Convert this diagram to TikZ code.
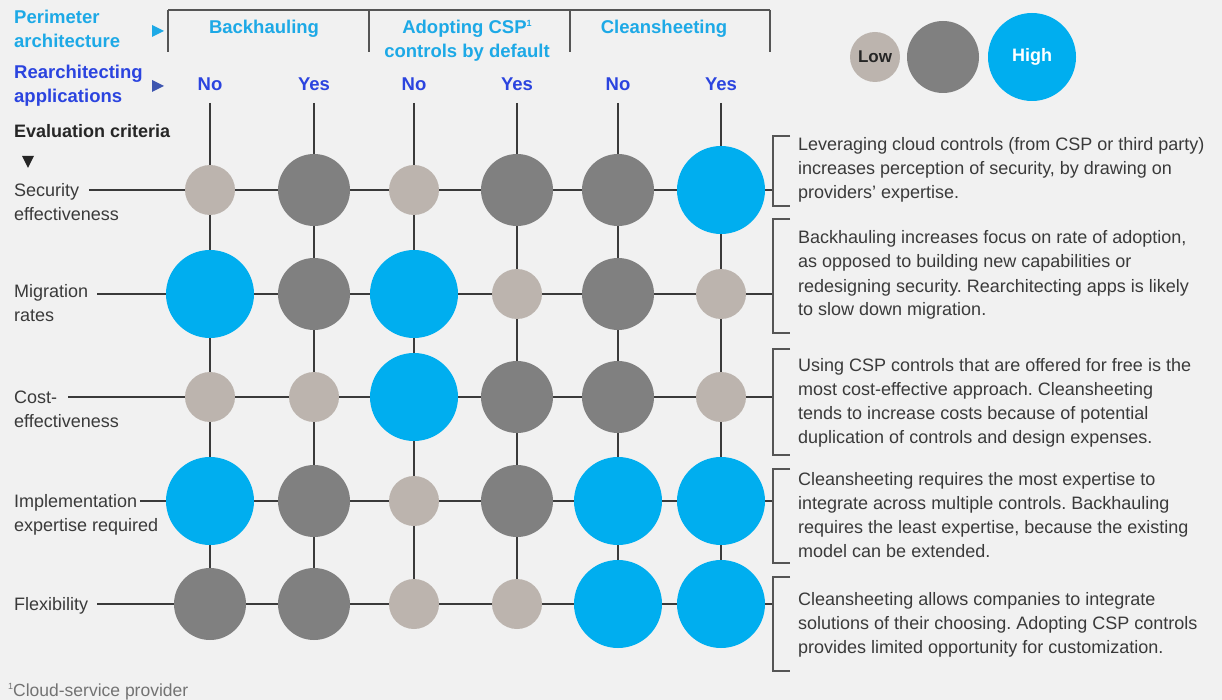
\documentclass[tikz,border=0pt]{standalone}
\usepackage{fontspec}
\setmainfont{Liberation Sans}
\usetikzlibrary{positioning}
\frenchspacing

\definecolor{paper}{HTML}{F1F1F1}
\definecolor{skyblue}{HTML}{00AEEF}
\definecolor{headblue}{HTML}{1DA9E6}
\definecolor{optblue}{HTML}{2B44DF}
\definecolor{arrowblue}{HTML}{3E56B0}
\definecolor{midgray}{HTML}{808080}
\definecolor{lowgray}{HTML}{BCB4AE}
\definecolor{inkgray}{HTML}{3A3A3A}
\definecolor{rulegray}{HTML}{555555}

\newcommand{\noteone}{\raisebox{0.75ex}{\fontsize{9}{9}\selectfont 1}}

\tikzset{
  lowdot/.style={circle,fill=lowgray,minimum size=50pt,inner sep=0pt},
  middot/.style={circle,fill=midgray,minimum size=72pt,inner sep=0pt},
  highdot/.style={circle,fill=skyblue,minimum size=88pt,inner sep=0pt},
  bodytext/.style={font=\fontsize{18}{24}\selectfont,text=inkgray,align=left,inner sep=0pt,anchor=base west},
  headtext/.style={font=\fontsize{18.5}{24}\selectfont\bfseries,text=headblue,align=center,inner sep=0pt,anchor=base},
  optiontext/.style={headtext,text=optblue},
  gridline/.style={draw=inkgray,line width=1.3pt},
  bracketline/.style={draw=rulegray,line width=1.5pt},
}

\begin{document}
\begin{tikzpicture}[x=1pt,y=-1pt]

  % Background
  \fill[paper] (0,0) rectangle (1222,700);
  \useasboundingbox (0,0) rectangle (1222,700);

  % Row headers (base = last line)
  \node[headtext,anchor=base west,align=left] (perim) at (14,48) {Perimeter\\architecture};
  \node[optiontext,anchor=base west,align=left] (rearch) at (14,103) {Rearchitecting\\applications};
  \node[bodytext,font=\fontsize{18}{24}\selectfont\bfseries,text=black!85] (evalcrit) at (14,138) {Evaluation criteria};
  \fill[headblue] (152,25) -- (164,31) -- (152,37) -- cycle;
  \fill[arrowblue] (152,80) -- (164,86) -- (152,92) -- cycle;
  \fill[black!85] (22,156) -- (34,156) -- (28,168) -- cycle;

  % Architecture bracket
  \foreach \x [count=\i] in {168,369,570,770}
    \coordinate (hd\i) at (\x,10);
  \draw[bracketline] (hd1) -- (hd4);
  \foreach \i in {1,...,4}
    \draw[bracketline] (hd\i) -- ++(0,42);

  \node[headtext] (backhaul) at (264,34) {Backhauling};
  \node[headtext] (adopt) at (467,58) {Adopting CSP\noteone\\controls by default};
  \node[headtext] (cleansheet) at (664,34) {Cleansheeting};

  % Options and grid points
  \foreach \x/\t [count=\c] in {210/No,314/Yes,414/No,517/Yes,618/No,721/Yes} {
    \node[optiontext] (opt\c) at (\x,91) {\t};
    \coordinate (g0-\c) at (\x,103);
    \foreach \y [count=\r] in {190,294,397,501,604}
      \coordinate (g\r-\c) at (\x,\y);
  }
  \foreach \y [count=\r] in {190,294,397,501,604}
    \coordinate (brk\r) at (773,\y);

  % Criteria
  \node[bodytext] (crit1) at (14,221) {Security\\effectiveness};
  \node[bodytext] (crit2) at (14,321) {Migration\\rates};
  \node[bodytext] (crit3) at (14,427) {Cost-\\effectiveness};
  \node[bodytext] (crit4) at (14,531) {Implementation\\expertise required};
  \node[bodytext] (crit5) at (14,610) {Flexibility};
  \coordinate (start1) at (89,190);
  \coordinate (start2) at (97,294);
  \coordinate (start3) at (68,397);
  \coordinate (start4) at (140,501);
  \coordinate (start5) at (97,604);

  % Lines
  \foreach \c in {1,...,6}
    \draw[gridline] (g0-\c) -- (g5-\c);
  \foreach \r in {1,...,5}
    \draw[gridline] (start\r) -- (brk\r);

  % Ratings
  \foreach \levels [count=\r] in {
      {lowdot,middot,lowdot,middot,middot,highdot},
      {highdot,middot,highdot,lowdot,middot,lowdot},
      {lowdot,lowdot,highdot,middot,middot,lowdot},
      {highdot,middot,lowdot,middot,highdot,highdot},
      {middot,middot,lowdot,lowdot,highdot,highdot}}
    \foreach \lv [count=\c] in \levels
      \node[\lv] (dot\r-\c) at (g\r-\c) {};

  % Comment brackets
  \foreach \t/\b in {136/206,219/333,349/455,469/563,577/671}
    \draw[bracketline] (790,\t) -- (773,\t) -- (773,\b) -- (790,\b);

  \node[bodytext] (note1) at (798,199) {Leveraging cloud controls (from CSP or third party)\\increases perception of security, by drawing on\\providers’ expertise.};
  \node[bodytext] (note2) at (798,316) {Backhauling increases focus on rate of adoption,\\as opposed to building new capabilities or\\redesigning security. Rearchitecting apps is likely\\to slow down migration.};
  \node[bodytext] (note3) at (798,443) {Using CSP controls that are offered for free is the\\most cost-effective approach. Cleansheeting\\tends to increase costs because of potential\\duplication of controls and design expenses.};
  \node[bodytext] (note4) at (798,557) {Cleansheeting requires the most expertise to\\integrate across multiple controls. Backhauling\\requires the least expertise, because the existing\\model can be extended.};
  \node[bodytext] (note5) at (798,653) {Cleansheeting allows companies to integrate\\solutions of their choosing. Adopting CSP controls\\provides limited opportunity for customization.};

  % Legend
  \node[lowdot,font=\fontsize{17}{20}\selectfont\bfseries,text=black!85] (lowkey) at (875,57) {Low};
  \node[middot] (midkey) at (943,57) {};
  \node[highdot,font=\fontsize{18}{20}\selectfont\bfseries,text=white] (highkey) at (1032,57) {High};

  \node[bodytext,font=\fontsize{17.5}{20}\selectfont,text=black!55] (footnote) at (8,696) {\noteone Cloud-service provider};

\end{tikzpicture}
\end{document}
